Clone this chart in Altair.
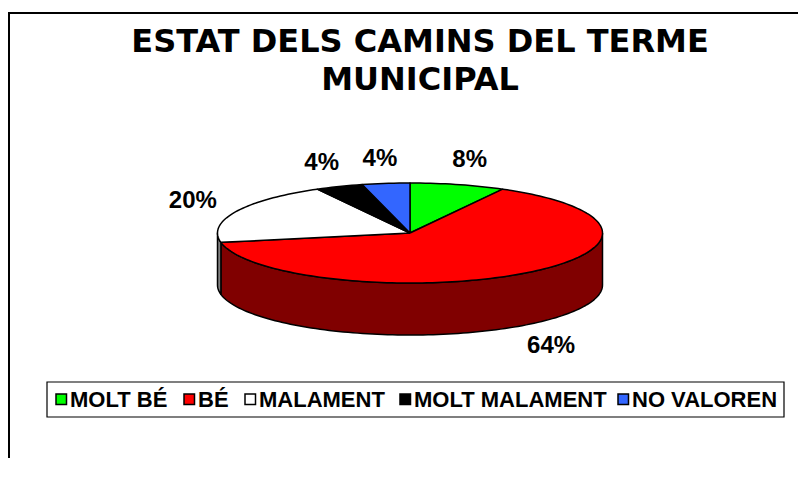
import altair as alt
import numpy as np
import pandas as pd

# ---- data ----
categories = ["MOLT BÉ", "BÉ", "MALAMENT", "MOLT MALAMENT", "NO VALOREN"]
values = [8, 64, 20, 4, 4]
top_colors = ["#00FF00", "#FF0000", "#FFFFFF", "#000000", "#3366FF"]
side_colors = ["#008000", "#800000", "#808080", "#000000", "#1A3380"]
label_texts = [f"{v}%" for v in values]
title_lines = ["ESTAT DELS CAMINS DEL TERME", "MUNICIPAL"]

# ---- layout constants (pixels, inside the plot area) ----
W, H = 790, 450          # plot area
CX, CY = 402, 225        # pie centre
RX, RY, DEPTH = 192.5, 50, 52   # ellipse radii and 3D depth
LRX, LRY = 240, 75       # label ellipse
LEGEND_KEY_X = [48, 176, 237, 392, 610]   # left edge of each legend key
LEGEND_KEY_TOP, LEGEND_KEY_SIZE, LEGEND_TEXT_GAP = 386, 10.5, 14
LEGEND_BOX = (39, 776, 374, 409)

total = float(sum(values))
bounds = np.concatenate([[0.0], np.cumsum(values)]) / total * 360.0


def pt(t):
    r = np.radians(t)
    return RX * np.sin(r), RY * np.cos(r)


top_rows, side_rows, label_rows = [], [], []
for i, cat in enumerate(categories):
    a, b = bounds[i], bounds[i + 1]
    ts = np.linspace(a, b, max(int((b - a) / 1.5), 2) + 1)
    ring = [(0.0, 0.0)] + [pt(t) for t in ts] + [(0.0, 0.0)]
    for k, (x, y) in enumerate(ring):
        top_rows.append(dict(cat=cat, poly=f"top{i}", k=k, x=x, y=y))
    lo, hi = max(a, 90.0), min(b, 270.0)
    if hi > lo:
        ss = np.linspace(lo, hi, max(int((hi - lo) / 1.5), 2) + 1)
        upper = [pt(t) for t in ss]
        lower = [(x, y - DEPTH) for x, y in upper[::-1]]
        ring = upper + lower + [upper[0]]
        for k, (x, y) in enumerate(ring):
            side_rows.append(dict(cat=cat, poly=f"side{i}", k=k, x=x, y=y,
                                  side=side_colors[i]))
    m = np.radians((a + b) / 2)
    ly = LRY * np.cos(m)
    if np.cos(m) < 0:
        ly -= DEPTH
    label_rows.append(dict(cat=cat, x=LRX * np.sin(m), y=ly, label=label_texts[i]))

top_df = pd.DataFrame(top_rows)
side_df = pd.DataFrame(side_rows)
label_df = pd.DataFrame(label_rows)

# legend table (plot-area pixels converted to the pie's data units)
legend_df = pd.DataFrame({
    "cat": categories,
    "x": [lx - CX for lx in LEGEND_KEY_X],
    "x2": [lx + LEGEND_KEY_SIZE - CX for lx in LEGEND_KEY_X],
    "tx": [lx + LEGEND_TEXT_GAP - CX for lx in LEGEND_KEY_X],
    "y": [CY - LEGEND_KEY_TOP] * len(categories),
    "y2": [CY - LEGEND_KEY_TOP - LEGEND_KEY_SIZE] * len(categories),
    "ty": [CY - LEGEND_KEY_TOP - LEGEND_KEY_SIZE / 2 - 0.5] * len(categories),
})

xs = alt.Scale(domain=[-CX, W - CX], nice=False, zero=False)
ys = alt.Scale(domain=[-(H - CY), CY], nice=False, zero=False)
X = alt.X("x:Q", scale=xs, axis=None)
Y = alt.Y("y:Q", scale=ys, axis=None)
fill_scale = alt.Scale(domain=categories, range=top_colors)

sides = alt.Chart(side_df).mark_line(
    stroke="black", strokeWidth=1.5, strokeJoin="round"
).encode(
    x=X, y=Y,
    fill=alt.Fill("side:N", scale=None, legend=None),
    detail="poly:N",
    order="k:Q",
)

tops = alt.Chart(top_df).mark_line(
    stroke="black", strokeWidth=1.5, strokeJoin="round"
).encode(
    x=X, y=Y,
    fill=alt.Fill("cat:N", scale=fill_scale, sort=categories, legend=None),
    detail="poly:N",
    order="k:Q",
)

labels = alt.Chart(label_df).mark_text(
    font="Liberation Sans", fontWeight="bold", fontSize=24, color="black",
    baseline="middle", align="center",
).encode(x=X, y=Y, text="label:N")

# legend: frame, keys and labels
bx1, bx2, by1, by2 = LEGEND_BOX
legend_frame = alt.Chart(pd.DataFrame({"d": [0]})).mark_rect(
    fill="white", stroke="black", strokeWidth=1.2
).encode(x=alt.value(bx1), x2=alt.value(bx2), y=alt.value(by1), y2=alt.value(by2))

legend_keys = alt.Chart(legend_df).mark_rect(
    stroke="black", strokeWidth=1.5
).encode(
    x=X, x2="x2:Q", y=Y, y2="y2:Q",
    fill=alt.Fill("cat:N", scale=fill_scale, sort=categories, legend=None),
)

legend_text = alt.Chart(legend_df).mark_text(
    font="Liberation Sans", fontWeight="bold", fontSize=22, color="black",
    align="left", baseline="middle",
).encode(
    x=alt.X("tx:Q", scale=xs, axis=None),
    y=alt.Y("ty:Q", scale=ys, axis=None),
    text="cat:N",
)

title = alt.Chart(pd.DataFrame({"d": [0]})).mark_text(
    text=title_lines, font="DejaVu Sans", fontWeight="bold", fontSize=32,
    color="black", align="center", baseline="alphabetic", lineHeight=38,
).encode(x=alt.value(412), y=alt.value(44))

frame_top = alt.Chart(pd.DataFrame({"d": [0]})).mark_rule(
    color="black", strokeWidth=2
).encode(x=alt.value(1), x2=alt.value(W), y=alt.value(5))
frame_left = alt.Chart(pd.DataFrame({"d": [0]})).mark_rule(
    color="black", strokeWidth=2
).encode(x=alt.value(1), y=alt.value(4), y2=alt.value(H))

chart = alt.layer(
    frame_top, frame_left, sides, tops, labels,
    legend_frame, legend_keys, legend_text, title
).resolve_scale(fill="independent").properties(
    width=W, height=H, padding=0,
    autosize=alt.AutoSizeParams(type="none"),
).configure_view(stroke=None)

chart.save("out.html", embed_options={"renderer": "svg", "actions": False})
